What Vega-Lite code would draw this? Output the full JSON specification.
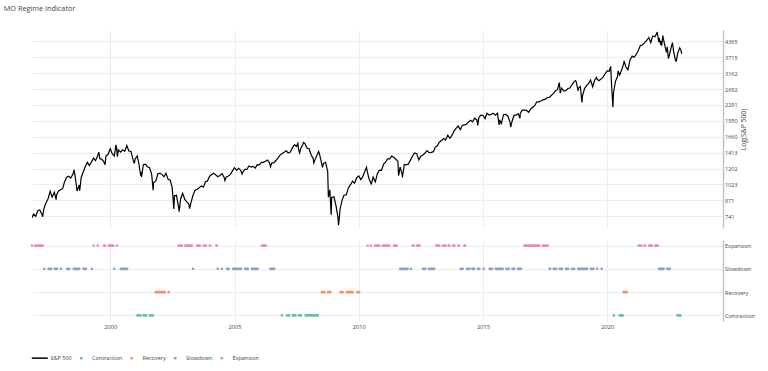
{
"$schema": "https://vega.github.io/schema/vega-lite/v6.json",
"padding": {"left": 3, "top": 4, "right": 5, "bottom": 5},
"background": "white",
"title": {"text": "MO Regime Indicator", "anchor": "start", "font": "Open Sans", "fontSize": 7.3, "fontWeight": "normal", "color": "#444", "dx": -27, "offset": 18},
"config": {
  "view": {"stroke": null},
  "font": "Open Sans",
  "axis": {"labelFont": "Open Sans", "labelFontSize": 5.5, "labelColor": "#444", "gridColor": "#ececec", "gridWidth": 1, "ticks": false, "domain": false, "titleFont": "Open Sans", "titleFontWeight": "normal", "titleColor": "#444"}
},
"datasets": {
"spx": [
{"date":"1996-11-07","close":730.82},{"date":"1996-11-29","close":757.02},{"date":"1996-12-31","close":740.74},
{"date":"1997-01-31","close":786.16},{"date":"1997-02-28","close":790.82},{"date":"1997-03-31","close":757.12},{"date":"1997-04-11","close":737.65},{"date":"1997-04-30","close":801.34},{"date":"1997-05-30","close":848.28},{"date":"1997-06-30","close":885.14},{"date":"1997-07-31","close":954.29},{"date":"1997-08-29","close":899.47},{"date":"1997-09-30","close":947.28},{"date":"1997-10-27","close":876.99},{"date":"1997-10-31","close":914.62},{"date":"1997-11-28","close":955.40},{"date":"1997-12-31","close":970.43},
{"date":"1998-01-30","close":980.28},{"date":"1998-02-27","close":1049.34},{"date":"1998-03-31","close":1101.75},{"date":"1998-04-30","close":1111.75},{"date":"1998-05-29","close":1090.82},{"date":"1998-06-30","close":1133.84},{"date":"1998-07-17","close":1186.75},{"date":"1998-07-31","close":1120.67},{"date":"1998-08-31","close":957.28},{"date":"1998-09-30","close":1017.01},{"date":"1998-10-08","close":959.44},{"date":"1998-10-30","close":1098.67},{"date":"1998-11-30","close":1163.63},{"date":"1998-12-31","close":1229.23},
{"date":"1999-01-29","close":1279.64},{"date":"1999-02-26","close":1238.33},{"date":"1999-03-31","close":1286.37},{"date":"1999-04-30","close":1335.18},{"date":"1999-05-28","close":1301.84},{"date":"1999-06-30","close":1372.71},{"date":"1999-07-16","close":1418.78},{"date":"1999-07-30","close":1328.72},{"date":"1999-08-31","close":1320.41},{"date":"1999-09-30","close":1282.71},{"date":"1999-10-15","close":1247.41},{"date":"1999-10-29","close":1362.93},{"date":"1999-11-30","close":1388.91},{"date":"1999-12-31","close":1469.25},
{"date":"2000-01-31","close":1394.46},{"date":"2000-02-29","close":1366.42},{"date":"2000-03-24","close":1527.46},{"date":"2000-03-31","close":1498.58},{"date":"2000-04-14","close":1356.56},{"date":"2000-04-28","close":1452.43},{"date":"2000-05-31","close":1420.60},{"date":"2000-06-30","close":1454.60},{"date":"2000-07-31","close":1430.83},{"date":"2000-08-31","close":1517.68},{"date":"2000-09-29","close":1436.51},{"date":"2000-10-31","close":1429.40},{"date":"2000-11-30","close":1314.95},{"date":"2000-12-20","close":1264.74},{"date":"2000-12-29","close":1320.28},
{"date":"2001-01-31","close":1366.01},{"date":"2001-02-28","close":1239.94},{"date":"2001-03-22","close":1117.58},{"date":"2001-03-30","close":1160.33},{"date":"2001-04-04","close":1103.25},{"date":"2001-04-30","close":1249.46},{"date":"2001-05-31","close":1255.82},{"date":"2001-06-29","close":1224.42},{"date":"2001-07-31","close":1211.23},{"date":"2001-08-31","close":1133.58},{"date":"2001-09-21","close":965.80},{"date":"2001-09-28","close":1040.94},{"date":"2001-10-31","close":1059.78},{"date":"2001-11-30","close":1139.45},{"date":"2001-12-31","close":1148.08},
{"date":"2002-01-31","close":1130.20},{"date":"2002-02-28","close":1106.73},{"date":"2002-03-28","close":1147.39},{"date":"2002-04-30","close":1076.92},{"date":"2002-05-31","close":1067.14},{"date":"2002-06-28","close":989.82},{"date":"2002-07-23","close":797.70},{"date":"2002-07-31","close":911.62},{"date":"2002-08-30","close":916.07},{"date":"2002-09-30","close":815.28},{"date":"2002-10-09","close":776.76},{"date":"2002-10-31","close":885.76},{"date":"2002-11-29","close":936.31},{"date":"2002-12-31","close":879.82},
{"date":"2003-01-31","close":855.70},{"date":"2003-02-28","close":841.15},{"date":"2003-03-11","close":800.73},{"date":"2003-03-31","close":848.18},{"date":"2003-04-30","close":916.92},{"date":"2003-05-30","close":963.59},{"date":"2003-06-30","close":974.50},{"date":"2003-07-31","close":990.31},{"date":"2003-08-29","close":1008.01},{"date":"2003-09-30","close":995.97},{"date":"2003-10-31","close":1050.71},{"date":"2003-11-28","close":1058.20},{"date":"2003-12-31","close":1111.92},
{"date":"2004-01-30","close":1131.13},{"date":"2004-02-27","close":1144.94},{"date":"2004-03-31","close":1126.21},{"date":"2004-04-30","close":1107.30},{"date":"2004-05-28","close":1120.68},{"date":"2004-06-30","close":1140.84},{"date":"2004-07-30","close":1101.72},{"date":"2004-08-12","close":1063.23},{"date":"2004-08-31","close":1104.24},{"date":"2004-09-30","close":1114.58},{"date":"2004-10-29","close":1130.20},{"date":"2004-11-30","close":1173.82},{"date":"2004-12-31","close":1211.92},
{"date":"2005-01-31","close":1181.27},{"date":"2005-02-28","close":1203.60},{"date":"2005-03-31","close":1180.59},{"date":"2005-04-20","close":1137.50},{"date":"2005-04-29","close":1156.85},{"date":"2005-05-31","close":1191.50},{"date":"2005-06-30","close":1191.33},{"date":"2005-07-29","close":1234.18},{"date":"2005-08-31","close":1220.33},{"date":"2005-09-30","close":1228.81},{"date":"2005-10-31","close":1207.01},{"date":"2005-11-30","close":1249.48},{"date":"2005-12-30","close":1248.29},
{"date":"2006-01-31","close":1280.08},{"date":"2006-02-28","close":1280.66},{"date":"2006-03-31","close":1294.83},{"date":"2006-04-28","close":1310.61},{"date":"2006-05-31","close":1270.09},{"date":"2006-06-13","close":1223.69},{"date":"2006-06-30","close":1270.20},{"date":"2006-07-31","close":1276.66},{"date":"2006-08-31","close":1303.82},{"date":"2006-09-29","close":1335.85},{"date":"2006-10-31","close":1377.94},{"date":"2006-11-30","close":1400.63},{"date":"2006-12-29","close":1418.30},
{"date":"2007-01-31","close":1438.24},{"date":"2007-02-28","close":1406.82},{"date":"2007-03-30","close":1420.86},{"date":"2007-04-30","close":1482.37},{"date":"2007-05-31","close":1530.62},{"date":"2007-06-29","close":1503.35},{"date":"2007-07-19","close":1553.08},{"date":"2007-07-31","close":1455.27},{"date":"2007-08-15","close":1406.70},{"date":"2007-08-31","close":1473.99},{"date":"2007-09-28","close":1526.75},{"date":"2007-10-09","close":1565.15},{"date":"2007-10-31","close":1549.38},{"date":"2007-11-30","close":1481.14},{"date":"2007-12-31","close":1468.36},
{"date":"2008-01-31","close":1378.55},{"date":"2008-02-29","close":1330.63},{"date":"2008-03-10","close":1273.37},{"date":"2008-03-31","close":1322.70},{"date":"2008-04-30","close":1385.59},{"date":"2008-05-19","close":1426.63},{"date":"2008-05-30","close":1400.38},{"date":"2008-06-30","close":1280.00},{"date":"2008-07-15","close":1214.91},{"date":"2008-07-31","close":1267.38},{"date":"2008-08-29","close":1282.83},{"date":"2008-09-30","close":1166.36},{"date":"2008-10-10","close":899.22},{"date":"2008-10-31","close":968.75},{"date":"2008-11-20","close":752.44},{"date":"2008-11-28","close":896.24},{"date":"2008-12-31","close":903.25},
{"date":"2009-01-30","close":825.88},{"date":"2009-02-27","close":735.09},{"date":"2009-03-09","close":676.53},{"date":"2009-03-31","close":797.87},{"date":"2009-04-30","close":872.81},{"date":"2009-05-29","close":919.14},{"date":"2009-06-30","close":919.32},{"date":"2009-07-31","close":987.48},{"date":"2009-08-31","close":1020.62},{"date":"2009-09-30","close":1057.08},{"date":"2009-10-30","close":1036.19},{"date":"2009-11-30","close":1095.63},{"date":"2009-12-31","close":1115.10},
{"date":"2010-01-29","close":1073.87},{"date":"2010-02-26","close":1104.49},{"date":"2010-03-31","close":1169.43},{"date":"2010-04-23","close":1217.28},{"date":"2010-04-30","close":1186.69},{"date":"2010-05-28","close":1089.41},{"date":"2010-06-30","close":1030.71},{"date":"2010-07-02","close":1022.58},{"date":"2010-07-30","close":1101.60},{"date":"2010-08-31","close":1049.33},{"date":"2010-09-30","close":1141.20},{"date":"2010-10-29","close":1183.26},{"date":"2010-11-30","close":1180.55},{"date":"2010-12-31","close":1257.64},
{"date":"2011-01-31","close":1286.12},{"date":"2011-02-28","close":1327.22},{"date":"2011-03-31","close":1325.83},{"date":"2011-04-29","close":1363.61},{"date":"2011-05-31","close":1345.20},{"date":"2011-06-30","close":1320.64},{"date":"2011-07-29","close":1292.28},{"date":"2011-08-08","close":1119.46},{"date":"2011-08-31","close":1218.89},{"date":"2011-09-30","close":1131.42},{"date":"2011-10-03","close":1099.23},{"date":"2011-10-31","close":1253.30},{"date":"2011-11-30","close":1246.96},{"date":"2011-12-30","close":1257.60},
{"date":"2012-01-31","close":1312.41},{"date":"2012-02-29","close":1365.68},{"date":"2012-03-30","close":1408.47},{"date":"2012-04-30","close":1397.91},{"date":"2012-05-31","close":1310.33},{"date":"2012-06-29","close":1362.16},{"date":"2012-07-31","close":1379.32},{"date":"2012-08-31","close":1406.58},{"date":"2012-09-28","close":1440.67},{"date":"2012-10-31","close":1412.16},{"date":"2012-11-30","close":1416.18},{"date":"2012-12-31","close":1426.19},
{"date":"2013-01-31","close":1498.11},{"date":"2013-02-28","close":1514.68},{"date":"2013-03-28","close":1569.19},{"date":"2013-04-30","close":1597.57},{"date":"2013-05-31","close":1630.74},{"date":"2013-06-28","close":1606.28},{"date":"2013-07-31","close":1685.73},{"date":"2013-08-30","close":1632.97},{"date":"2013-09-30","close":1681.55},{"date":"2013-10-31","close":1756.54},{"date":"2013-11-29","close":1805.81},{"date":"2013-12-31","close":1848.36},
{"date":"2014-01-31","close":1782.59},{"date":"2014-02-28","close":1859.45},{"date":"2014-03-31","close":1872.34},{"date":"2014-04-30","close":1883.95},{"date":"2014-05-30","close":1923.57},{"date":"2014-06-30","close":1960.23},{"date":"2014-07-31","close":1930.67},{"date":"2014-08-29","close":2003.37},{"date":"2014-09-30","close":1972.29},{"date":"2014-10-15","close":1862.49},{"date":"2014-10-31","close":2018.05},{"date":"2014-11-28","close":2067.56},{"date":"2014-12-31","close":2058.90},
{"date":"2015-01-30","close":1994.99},{"date":"2015-02-27","close":2104.50},{"date":"2015-03-31","close":2067.89},{"date":"2015-04-30","close":2085.51},{"date":"2015-05-29","close":2107.39},{"date":"2015-06-30","close":2063.11},{"date":"2015-07-31","close":2103.84},{"date":"2015-08-25","close":1867.61},{"date":"2015-08-31","close":1972.18},{"date":"2015-09-29","close":1884.09},{"date":"2015-09-30","close":1920.03},{"date":"2015-10-30","close":2079.36},{"date":"2015-11-30","close":2080.41},{"date":"2015-12-31","close":2043.94},
{"date":"2016-01-29","close":1940.24},{"date":"2016-02-11","close":1829.08},{"date":"2016-02-29","close":1932.23},{"date":"2016-03-31","close":2059.74},{"date":"2016-04-29","close":2065.30},{"date":"2016-05-31","close":2096.95},{"date":"2016-06-27","close":2000.54},{"date":"2016-06-30","close":2098.86},{"date":"2016-07-29","close":2173.60},{"date":"2016-08-31","close":2170.95},{"date":"2016-09-30","close":2168.27},{"date":"2016-10-31","close":2126.15},{"date":"2016-11-30","close":2198.81},{"date":"2016-12-30","close":2238.83},
{"date":"2017-01-31","close":2278.87},{"date":"2017-02-28","close":2363.64},{"date":"2017-03-31","close":2362.72},{"date":"2017-04-28","close":2384.20},{"date":"2017-05-31","close":2411.80},{"date":"2017-06-30","close":2423.41},{"date":"2017-07-31","close":2470.30},{"date":"2017-08-31","close":2471.65},{"date":"2017-09-29","close":2519.36},{"date":"2017-10-31","close":2575.26},{"date":"2017-11-30","close":2647.58},{"date":"2017-12-29","close":2673.61},
{"date":"2018-01-26","close":2872.87},{"date":"2018-02-08","close":2581.00},{"date":"2018-02-28","close":2713.83},{"date":"2018-03-29","close":2640.87},{"date":"2018-04-30","close":2648.05},{"date":"2018-05-31","close":2705.27},{"date":"2018-06-29","close":2718.37},{"date":"2018-07-31","close":2816.29},{"date":"2018-08-31","close":2901.52},{"date":"2018-09-20","close":2930.75},{"date":"2018-09-28","close":2913.98},{"date":"2018-10-29","close":2641.25},{"date":"2018-10-31","close":2711.74},{"date":"2018-11-30","close":2760.17},{"date":"2018-12-24","close":2351.10},{"date":"2018-12-31","close":2506.85},
{"date":"2019-01-31","close":2704.10},{"date":"2019-02-28","close":2784.49},{"date":"2019-03-29","close":2834.40},{"date":"2019-04-30","close":2945.83},{"date":"2019-05-31","close":2752.06},{"date":"2019-06-28","close":2941.76},{"date":"2019-07-26","close":3025.86},{"date":"2019-07-31","close":2980.38},{"date":"2019-08-30","close":2926.46},{"date":"2019-09-30","close":2976.74},{"date":"2019-10-31","close":3037.56},{"date":"2019-11-29","close":3140.98},{"date":"2019-12-31","close":3230.78},
{"date":"2020-01-31","close":3225.52},{"date":"2020-02-19","close":3386.15},{"date":"2020-02-28","close":2954.22},{"date":"2020-03-23","close":2237.40},{"date":"2020-03-31","close":2584.59},{"date":"2020-04-30","close":2912.43},{"date":"2020-05-29","close":3044.31},{"date":"2020-06-08","close":3232.39},{"date":"2020-06-30","close":3100.29},{"date":"2020-07-31","close":3271.12},{"date":"2020-08-31","close":3500.31},{"date":"2020-09-02","close":3580.84},{"date":"2020-09-30","close":3363.00},{"date":"2020-10-30","close":3269.96},{"date":"2020-11-30","close":3621.63},{"date":"2020-12-31","close":3756.07},
{"date":"2021-01-29","close":3714.24},{"date":"2021-02-26","close":3811.15},{"date":"2021-03-31","close":3972.89},{"date":"2021-04-30","close":4181.17},{"date":"2021-05-28","close":4204.11},{"date":"2021-06-30","close":4297.50},{"date":"2021-07-30","close":4395.26},{"date":"2021-08-31","close":4522.68},{"date":"2021-09-02","close":4536.95},{"date":"2021-09-30","close":4307.54},{"date":"2021-10-29","close":4605.38},{"date":"2021-11-30","close":4567.00},{"date":"2021-12-31","close":4766.18},
{"date":"2022-01-03","close":4796.56},{"date":"2022-01-27","close":4326.51},{"date":"2022-01-31","close":4515.55},{"date":"2022-02-23","close":4225.50},{"date":"2022-02-28","close":4373.94},{"date":"2022-03-08","close":4170.70},{"date":"2022-03-29","close":4631.60},{"date":"2022-03-31","close":4530.41},{"date":"2022-04-29","close":4131.93},{"date":"2022-05-20","close":3901.36},{"date":"2022-05-31","close":4132.15},{"date":"2022-06-16","close":3666.77},{"date":"2022-06-30","close":3785.38},{"date":"2022-07-29","close":4130.29},{"date":"2022-08-16","close":4305.20},{"date":"2022-08-31","close":3955.00},{"date":"2022-09-30","close":3585.62},{"date":"2022-10-12","close":3577.03},{"date":"2022-10-31","close":3871.98},{"date":"2022-11-30","close":4080.11},{"date":"2022-12-13","close":4019.65},{"date":"2022-12-30","close":3839.50}
],
"regimes": [
{"regime":"Expansion","start":"1996-11-07","end":"1996-11-07"},{"regime":"Expansion","start":"1996-12-24","end":"1997-04-12"},{"regime":"Expansion","start":"1999-05-01","end":"1999-05-01"},{"regime":"Expansion","start":"1999-07-01","end":"1999-07-01"},{"regime":"Expansion","start":"1999-10-01","end":"1999-10-15"},{"regime":"Expansion","start":"1999-12-10","end":"2000-02-14"},{"regime":"Expansion","start":"2000-04-08","end":"2000-04-08"},{"regime":"Expansion","start":"2002-10-01","end":"2002-11-20"},{"regime":"Expansion","start":"2003-01-08","end":"2003-04-12"},{"regime":"Expansion","start":"2003-07-01","end":"2003-08-10"},{"regime":"Expansion","start":"2003-10-05","end":"2003-11-06"},{"regime":"Expansion","start":"2004-01-01","end":"2004-01-08"},{"regime":"Expansion","start":"2004-04-08","end":"2004-04-15"},{"regime":"Expansion","start":"2006-02-06","end":"2006-04-05"},{"regime":"Expansion","start":"2010-05-10","end":"2010-05-10"},{"regime":"Expansion","start":"2010-06-28","end":"2010-06-28"},{"regime":"Expansion","start":"2010-08-28","end":"2010-10-27"},{"regime":"Expansion","start":"2010-12-20","end":"2011-03-25"},{"regime":"Expansion","start":"2011-06-03","end":"2011-07-13"},{"regime":"Expansion","start":"2012-03-03","end":"2012-03-14"},{"regime":"Expansion","start":"2012-05-04","end":"2012-06-10"},{"regime":"Expansion","start":"2013-02-14","end":"2013-03-30"},{"regime":"Expansion","start":"2013-05-22","end":"2013-06-28"},{"regime":"Expansion","start":"2013-08-14","end":"2013-08-25"},{"regime":"Expansion","start":"2013-10-18","end":"2013-11-06"},{"regime":"Expansion","start":"2014-01-04","end":"2014-01-11"},{"regime":"Expansion","start":"2014-04-01","end":"2014-04-12"},{"regime":"Expansion","start":"2016-09-01","end":"2017-04-05"},{"regime":"Expansion","start":"2017-05-30","end":"2017-08-07"},{"regime":"Expansion","start":"2021-04-05","end":"2021-05-12"},{"regime":"Expansion","start":"2021-07-01","end":"2021-07-08"},{"regime":"Expansion","start":"2021-09-05","end":"2021-10-15"},{"regime":"Expansion","start":"2021-12-05","end":"2022-01-12"},
{"regime":"Slowdown","start":"1997-05-05","end":"1997-05-05"},{"regime":"Slowdown","start":"1997-07-08","end":"1997-08-14"},{"regime":"Slowdown","start":"1997-10-05","end":"1997-11-06"},{"regime":"Slowdown","start":"1998-01-04","end":"1998-01-04"},{"regime":"Slowdown","start":"1998-04-08","end":"1998-05-08"},{"regime":"Slowdown","start":"1998-07-12","end":"1998-10-01"},{"regime":"Slowdown","start":"1998-12-05","end":"1999-01-08"},{"regime":"Slowdown","start":"1999-04-05","end":"1999-04-05"},{"regime":"Slowdown","start":"2000-02-28","end":"2000-02-28"},{"regime":"Slowdown","start":"2000-06-03","end":"2000-09-05"},{"regime":"Slowdown","start":"2003-05-01","end":"2003-05-01"},{"regime":"Slowdown","start":"2004-04-27","end":"2004-04-27"},{"regime":"Slowdown","start":"2004-06-28","end":"2004-06-28"},{"regime":"Slowdown","start":"2004-09-12","end":"2004-10-05"},{"regime":"Slowdown","start":"2004-12-10","end":"2005-04-05"},{"regime":"Slowdown","start":"2005-06-06","end":"2005-07-12"},{"regime":"Slowdown","start":"2005-09-12","end":"2005-12-05"},{"regime":"Slowdown","start":"2006-06-10","end":"2006-08-07"},{"regime":"Slowdown","start":"2011-09-01","end":"2011-12-20"},{"regime":"Slowdown","start":"2012-02-06","end":"2012-02-06"},{"regime":"Slowdown","start":"2012-08-01","end":"2012-09-05"},{"regime":"Slowdown","start":"2012-10-27","end":"2013-01-12"},{"regime":"Slowdown","start":"2014-02-06","end":"2014-03-07"},{"regime":"Slowdown","start":"2014-05-08","end":"2014-06-14"},{"regime":"Slowdown","start":"2014-07-26","end":"2014-08-25"},{"regime":"Slowdown","start":"2014-10-18","end":"2014-11-06"},{"regime":"Slowdown","start":"2015-01-08","end":"2015-01-08"},{"regime":"Slowdown","start":"2015-04-08","end":"2015-05-12"},{"regime":"Slowdown","start":"2015-07-05","end":"2015-10-15"},{"regime":"Slowdown","start":"2015-12-10","end":"2016-01-12"},{"regime":"Slowdown","start":"2016-03-07","end":"2016-04-05"},{"regime":"Slowdown","start":"2016-05-30","end":"2016-07-12"},{"regime":"Slowdown","start":"2017-09-05","end":"2017-09-12"},{"regime":"Slowdown","start":"2017-11-03","end":"2017-12-10"},{"regime":"Slowdown","start":"2018-01-30","end":"2018-03-07"},{"regime":"Slowdown","start":"2018-05-04","end":"2018-06-06"},{"regime":"Slowdown","start":"2018-08-01","end":"2018-09-01"},{"regime":"Slowdown","start":"2018-10-30","end":"2019-03-10"},{"regime":"Slowdown","start":"2019-05-04","end":"2019-06-10"},{"regime":"Slowdown","start":"2019-08-05","end":"2019-08-05"},{"regime":"Slowdown","start":"2019-10-10","end":"2019-10-10"},{"regime":"Slowdown","start":"2022-01-30","end":"2022-04-08"},{"regime":"Slowdown","start":"2022-05-30","end":"2022-07-08"},
{"regime":"Recovery","start":"2001-10-30","end":"2002-03-10"},{"regime":"Recovery","start":"2002-05-08","end":"2002-05-08"},{"regime":"Recovery","start":"2008-07-08","end":"2008-08-10"},{"regime":"Recovery","start":"2008-10-05","end":"2008-11-06"},{"regime":"Recovery","start":"2009-04-08","end":"2009-05-08"},{"regime":"Recovery","start":"2009-07-08","end":"2009-10-01"},{"regime":"Recovery","start":"2009-12-10","end":"2010-01-04"},{"regime":"Recovery","start":"2020-08-28","end":"2020-10-12"},
{"regime":"Contraction","start":"2001-02-03","end":"2001-03-18"},{"regime":"Contraction","start":"2001-05-04","end":"2001-06-10"},{"regime":"Contraction","start":"2001-08-05","end":"2001-09-17"},{"regime":"Contraction","start":"2006-11-28","end":"2006-11-28"},{"regime":"Contraction","start":"2007-02-10","end":"2007-03-14"},{"regime":"Contraction","start":"2007-05-08","end":"2007-06-14"},{"regime":"Contraction","start":"2007-08-05","end":"2007-09-01"},{"regime":"Contraction","start":"2007-11-10","end":"2008-05-08"},{"regime":"Contraction","start":"2020-04-07","end":"2020-04-07"},{"regime":"Contraction","start":"2020-07-01","end":"2020-08-14"},{"regime":"Contraction","start":"2022-10-27","end":"2022-12-10"}
]
},
"vconcat": [
{
  "width": 691, "height": 198,
  "data": {"name": "spx"},
  "mark": {"type": "line", "color": "#000000", "strokeWidth": 1.2, "clip": true},
  "encoding": {
    "x": {"field": "date", "type": "temporal",
      "scale": {"type": "utc", "domain": [{"year": 1996, "month": 11, "date": 6, "utc": true}, {"year": 2024, "month": 8, "date": 27, "utc": true}]},
      "axis": {"title": null, "labels": false, "grid": true, "values": [{"year": 2000, "utc": true}, {"year": 2005, "utc": true}, {"year": 2010, "utc": true}, {"year": 2015, "utc": true}, {"year": 2020, "utc": true}]}},
    "y": {"field": "close", "type": "quantitative",
      "scale": {"type": "log", "domain": [658, 4895]},
      "axis": {"orient": "right", "values": [741.31, 870.96, 1023.29, 1202.26, 1412.54, 1659.59, 1949.84, 2290.87, 2691.53, 3162.28, 3715.35, 4365.16], "format": ".0f", "domain": true, "domainColor": "#c4c4c4", "domainWidth": 1.5, "labelPadding": 1.5, "grid": true, "title": "Log(S&P 500)", "titleFontSize": 6.8, "titleAngle": 270, "titleBaseline": "top", "titlePadding": 3}}
  }
},
{
  "width": 691, "height": 81,
  "data": {"name": "regimes"},
  "mark": {"type": "rule", "strokeWidth": 2.6, "strokeCap": "round"},
  "encoding": {
    "x": {"field": "start", "type": "temporal",
      "scale": {"type": "utc", "domain": [{"year": 1996, "month": 11, "date": 6, "utc": true}, {"year": 2024, "month": 8, "date": 27, "utc": true}]},
      "axis": {"title": null, "grid": true, "format": "%Y", "formatType": "utc", "labelFontSize": 5.7, "labelPadding": 2, "values": [{"year": 2000, "utc": true}, {"year": 2005, "utc": true}, {"year": 2010, "utc": true}, {"year": 2015, "utc": true}, {"year": 2020, "utc": true}]}},
    "x2": {"field": "end"},
    "y": {"field": "regime", "type": "nominal",
      "scale": {"type": "point", "domain": ["Expansion", "Slowdown", "Recovery", "Contraction"], "padding": 0.24},
      "axis": {"orient": "right", "title": null, "domain": true, "domainColor": "#c4c4c4", "domainWidth": 1.5, "labelPadding": 1.5, "grid": true}},
    "color": {"field": "regime", "type": "nominal",
      "scale": {"domain": ["S&P 500", "Contraction", "Recovery", "Slowdown", "Expansion"], "range": ["#000000", "#66c2a5", "#fc8d62", "#8da0cb", "#e78ac3"]},
      "legend": {"orient": "none", "legendX": 5, "legendY": 325, "direction": "horizontal", "title": null,
        "labelFont": "Open Sans", "labelFontSize": 5.5, "labelColor": "#444", "labelOffset": 8, "columnPadding": 6.5, "symbolSize": 200,
        "encode": {"symbols": {"update": {
          "shape": {"signal": "datum.value === 'S&P 500' ? 'stroke' : 'circle'"},
          "size": {"signal": "datum.value === 'S&P 500' ? 256 : 8"},
          "fill": {"signal": "datum.value === 'S&P 500' ? 'transparent' : scale('color', datum.value)"},
          "stroke": {"signal": "datum.value === 'S&P 500' ? '#000000' : 'transparent'"},
          "strokeWidth": {"signal": "datum.value === 'S&P 500' ? 1.5 : 0"},
          "opacity": {"value": 1}
        }}}}}
  }
}
],
"spacing": 12
}
